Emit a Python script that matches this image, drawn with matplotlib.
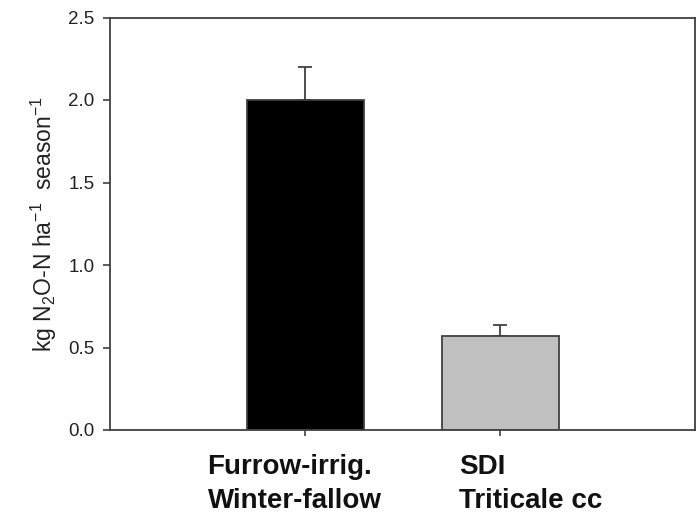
import matplotlib
matplotlib.use("Agg")
import matplotlib.pyplot as plt

plt.rcParams['font.family'] = ['Liberation Sans', 'DejaVu Sans']
plt.rcParams['mathtext.fontset'] = 'custom'
plt.rcParams['mathtext.rm'] = 'Liberation Sans'

treatments = ["Furrow-irrig.\nWinter-fallow", "SDI\nTriticale cc"]
emissions = [2.0, 0.57]
std_err = [0.2, 0.065]
bar_colors = ["#000000", "#c0c0c0"]
y_ticks = [0.0, 0.5, 1.0, 1.5, 2.0, 2.5]

edge = "#404040"

fig = plt.figure(figsize=(6.96, 5.17), dpi=100)
ax = fig.add_axes([110/696, 87/517, 585/696, 412.5/517])

pos = [1, 2]
ax.bar(pos, emissions, width=0.6, color=bar_colors, edgecolor=edge, linewidth=1.3, zorder=2)
ax.errorbar(pos, emissions, yerr=[[0, 0], std_err], fmt='none', ecolor=edge,
            elinewidth=1.3, capsize=4.7, capthick=1.3, zorder=1)

ax.set_xlim(0, 3)
ax.set_ylim(0, 2.5)
ax.set_yticks(y_ticks)
ax.set_yticklabels(["%.1f" % v for v in y_ticks], fontsize=13.5, color="#222222")
ax.set_xticks(pos)
ax.set_xticklabels([])
ax.tick_params(axis='y', direction='out', length=5, width=1.2, color=edge, pad=6)
ax.tick_params(axis='x', direction='out', length=4, width=1.2, color=edge)

for s in ax.spines.values():
    s.set_color(edge)
    s.set_linewidth(1.3)

# category labels, left aligned under each bar
label_x = [0.50, 1.79]
for x, t in zip(label_x, treatments):
    ax.text(x, -0.145, t, ha='left', va='top', fontsize=20, fontweight='bold',
            linespacing=1.38, color="#111111")

ax.set_ylabel(r"kg N$\mathregular{_2}$O-N ha$\mathregular{^{-1}}$  season$\mathregular{^{-1}}$",
              fontsize=16.5, labelpad=7, color="#222222")

fig.savefig("out.png", dpi=100)
